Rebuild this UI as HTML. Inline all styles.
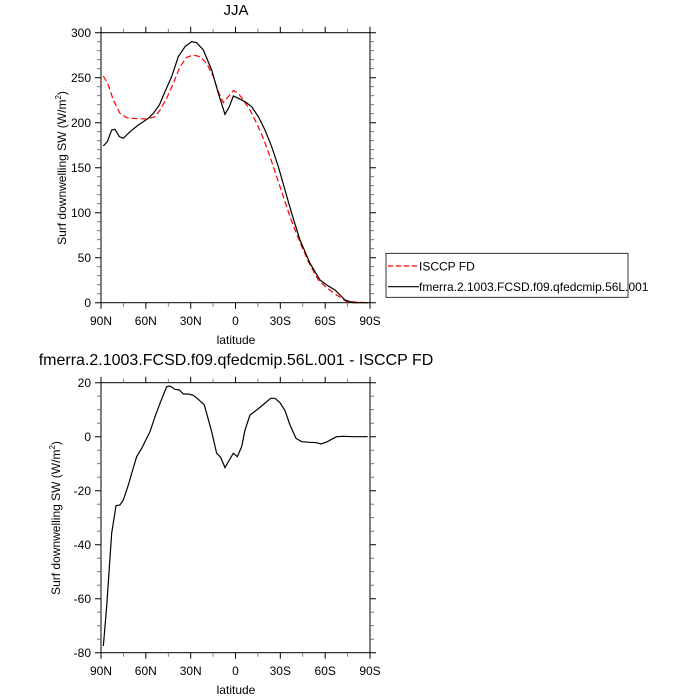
<!DOCTYPE html>
<html><head><style>body{margin:0;background:#fff}svg{display:block}text{font-family:"Liberation Sans",sans-serif;fill:#000}</style></head><body>
<svg width="700" height="700" viewBox="0 0 700 700">
<g id="top">
<text x="236" y="15" font-size="15" text-anchor="middle">JJA</text>
<rect x="101" y="32.7" width="269" height="270" fill="none" stroke="#000" stroke-width="1"/>
<g stroke="#000" stroke-width="1">
<path d="M101 32.7h-6M101 77.7h-6M101 122.7h-6M101 167.7h-6M101 212.7h-6M101 257.7h-6M101 302.7h-6"/>
<path d="M370 32.7h6M370 77.7h6M370 122.7h6M370 167.7h6M370 212.7h6M370 257.7h6M370 302.7h6"/>
<path d="M101 302.7v6M145.8 302.7v6M190.7 302.7v6M235.5 302.7v6M280.3 302.7v6M325.2 302.7v6M370 302.7v6"/>
<path d="M101 32.7v-6M145.8 32.7v-6M190.7 32.7v-6M235.5 32.7v-6M280.3 32.7v-6M325.2 32.7v-6M370 32.7v-6"/>
</g>
<g stroke="#666" stroke-width="0.8">
<path d="M101 41.7h-4M101 50.7h-4M101 59.7h-4M101 68.7h-4M101 86.7h-4M101 95.7h-4M101 104.7h-4M101 113.7h-4M101 131.7h-4M101 140.7h-4M101 149.7h-4M101 158.7h-4M101 176.7h-4M101 185.7h-4M101 194.7h-4M101 203.7h-4M101 221.7h-4M101 230.7h-4M101 239.7h-4M101 248.7h-4M101 266.7h-4M101 275.7h-4M101 284.7h-4M101 293.7h-4"/>
<path d="M370 41.7h4M370 50.7h4M370 59.7h4M370 68.7h4M370 86.7h4M370 95.7h4M370 104.7h4M370 113.7h4M370 131.7h4M370 140.7h4M370 149.7h4M370 158.7h4M370 176.7h4M370 185.7h4M370 194.7h4M370 203.7h4M370 221.7h4M370 230.7h4M370 239.7h4M370 248.7h4M370 266.7h4M370 275.7h4M370 284.7h4M370 293.7h4"/>
<path d="M123.4 302.7v4M168.3 302.7v4M213.1 302.7v4M257.9 302.7v4M302.8 302.7v4M347.6 302.7v4M123.4 32.7v-4M168.3 32.7v-4M213.1 32.7v-4M257.9 32.7v-4M302.8 32.7v-4M347.6 32.7v-4"/>
</g>
<g font-size="12" text-anchor="end">
<text x="91" y="37">300</text><text x="91" y="82">250</text><text x="91" y="127">200</text><text x="91" y="172">150</text><text x="91" y="217">100</text><text x="91" y="262">50</text><text x="91" y="307">0</text>
</g>
<g font-size="12" text-anchor="middle">
<text x="101" y="325">90N</text><text x="145.8" y="325">60N</text><text x="190.7" y="325">30N</text><text x="235.5" y="325">0</text><text x="280.3" y="325">30S</text><text x="325.2" y="325">60S</text><text x="370" y="325">90S</text>
<text x="236" y="344">latitude</text>
</g>
<text transform="translate(66,168) rotate(-90)" font-size="12" text-anchor="middle">Surf downwelling SW (W/m<tspan font-size="8" dy="-5">2</tspan><tspan dy="5">)</tspan></text>
<g transform="translate(90,20) scale(0.33333)" fill="none">
<polyline stroke="#f00" stroke-width="1.2" vector-effect="non-scaling-stroke" stroke-dasharray="6,3" points="40,168 55,195 70,240 90,280 110,293 140,296 170,297 195,290 210,270 230,235 250,190 270,140 290,112 310,105 330,110 350,130 370,170 385,215 400,248 415,230 430,212 445,220 460,240 480,270 500,310 520,355 540,410 560,470 580,530 600,590 625,655 655,725 685,780 710,803 740,825 770,845 835,848"/>
<polyline stroke="#000" stroke-width="1.2" vector-effect="non-scaling-stroke" points="40,378 52,365 65,330 75,328 88,350 100,355 120,335 145,315 175,295 190,280 208,255 225,215 245,170 265,110 285,80 305,65 320,68 340,90 365,150 385,220 405,283 418,260 430,228 445,235 465,245 485,260 505,290 525,330 545,380 565,440 585,510 605,580 630,660 660,730 690,780 710,795 735,810 765,840 790,848 835,848"/>
</g>
<rect x="386" y="253.3" width="242" height="44" fill="none" stroke="#000" stroke-width="0.8"/>
<path d="M388 266h31" stroke="#f00" stroke-dasharray="5,3" stroke-width="1.2"/>
<path d="M388 286.7h31" stroke="#000" stroke-width="1.2"/>
<text x="419" y="270.5" font-size="12">ISCCP FD</text>
<text x="419" y="291" font-size="12">fmerra.2.1003.FCSD.f09.qfedcmip.56L.001</text>
</g>
<g id="bot">
<text x="236" y="365" font-size="16" text-anchor="middle">fmerra.2.1003.FCSD.f09.qfedcmip.56L.001 - ISCCP FD</text>
<rect x="101" y="382.7" width="269" height="270" fill="none" stroke="#000" stroke-width="1"/>
<g stroke="#000" stroke-width="1">
<path d="M101 382.7h-6M101 436.7h-6M101 490.7h-6M101 544.7h-6M101 598.7h-6M101 652.7h-6"/>
<path d="M370 382.7h6M370 436.7h6M370 490.7h6M370 544.7h6M370 598.7h6M370 652.7h6"/>
<path d="M101 652.7v6M145.8 652.7v6M190.7 652.7v6M235.5 652.7v6M280.3 652.7v6M325.2 652.7v6M370 652.7v6"/>
<path d="M101 382.7v-6M145.8 382.7v-6M190.7 382.7v-6M235.5 382.7v-6M280.3 382.7v-6M325.2 382.7v-6M370 382.7v-6"/>
</g>
<g stroke="#666" stroke-width="0.8">
<path d="M101 396.2h-4M101 409.7h-4M101 423.2h-4M101 450.2h-4M101 463.7h-4M101 477.2h-4M101 504.2h-4M101 517.7h-4M101 531.2h-4M101 558.2h-4M101 571.7h-4M101 585.2h-4M101 612.2h-4M101 625.7h-4M101 639.2h-4"/>
<path d="M370 396.2h4M370 409.7h4M370 423.2h4M370 450.2h4M370 463.7h4M370 477.2h4M370 504.2h4M370 517.7h4M370 531.2h4M370 558.2h4M370 571.7h4M370 585.2h4M370 612.2h4M370 625.7h4M370 639.2h4"/>
<path d="M123.4 652.7v4M168.3 652.7v4M213.1 652.7v4M257.9 652.7v4M302.8 652.7v4M347.6 652.7v4M123.4 382.7v-4M168.3 382.7v-4M213.1 382.7v-4M257.9 382.7v-4M302.8 382.7v-4M347.6 382.7v-4"/>
</g>
<g font-size="12" text-anchor="end">
<text x="91" y="387">20</text><text x="91" y="441">0</text><text x="91" y="495">-20</text><text x="91" y="549">-40</text><text x="91" y="603">-60</text><text x="91" y="657">-80</text>
</g>
<g font-size="12" text-anchor="middle">
<text x="101" y="675">90N</text><text x="145.8" y="675">60N</text><text x="190.7" y="675">30N</text><text x="235.5" y="675">0</text><text x="280.3" y="675">30S</text><text x="325.2" y="675">60S</text><text x="370" y="675">90S</text>
<text x="236" y="694">latitude</text>
</g>
<text transform="translate(60,518) rotate(-90)" font-size="12" text-anchor="middle">Surf downwelling SW (W/m<tspan font-size="8" dy="-5">2</tspan><tspan dy="5">)</tspan></text>
<g transform="translate(90,370) scale(0.33333)" fill="none">
<polyline stroke="#000" stroke-width="1.2" vector-effect="non-scaling-stroke" points="40,828 50,710 65,490 78,407 90,405 100,390 115,345 128,300 140,260 155,235 180,185 195,140 210,100 230,50 240,48 255,58 268,60 280,72 295,72 310,76 325,88 343,105 365,185 380,250 392,262 405,293 418,270 430,250 442,260 455,230 465,180 480,135 500,120 515,108 530,95 542,85 555,85 570,98 585,122 600,165 618,205 635,215 660,217 680,218 693,222 710,216 725,208 740,200 760,199 790,200 833,200"/>
</g>
</g>
</svg>
</body></html>
